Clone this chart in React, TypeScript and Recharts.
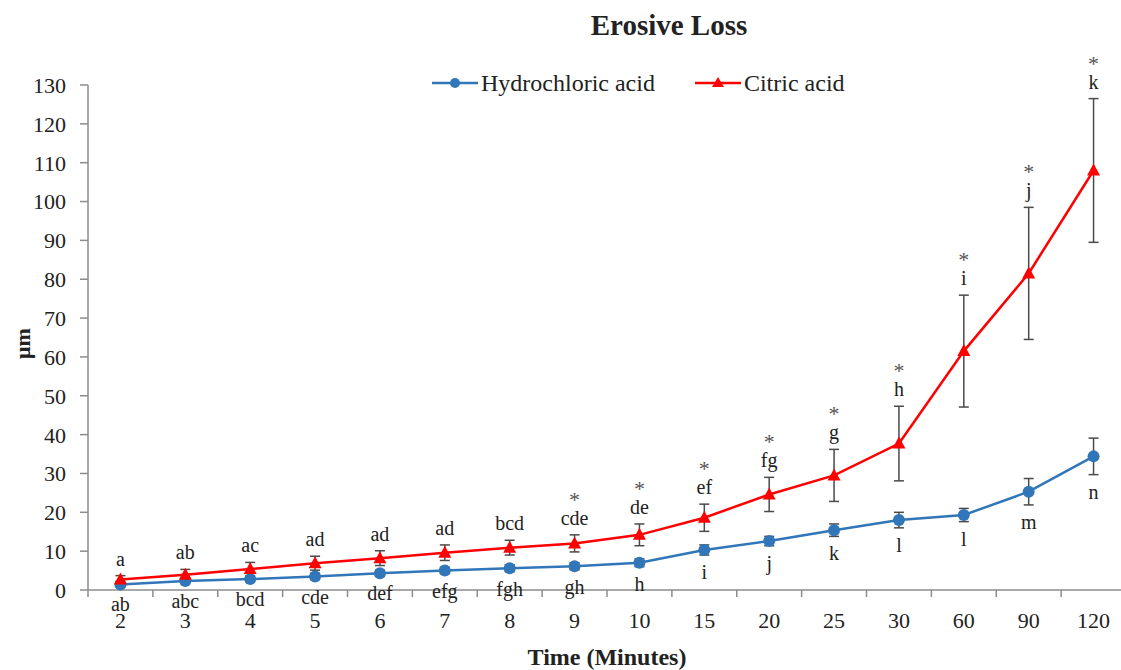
import { ErrorBar, LabelList, Legend, Line, LineChart, XAxis, YAxis } from 'recharts';

const categories = ['2', '3', '4', '5', '6', '7', '8', '9', '10', '15', '20', '25', '30', '60', '90', '120'];
const hclMean = [1.4, 2.3, 2.8, 3.5, 4.3, 5.0, 5.6, 6.1, 7.0, 10.3, 12.6, 15.4, 18.0, 19.3, 25.3, 34.4];
const hclErr = [0.6, 0.7, 0.7, 0.8, 0.8, 0.8, 0.9, 0.9, 1.0, 1.3, 1.2, 1.6, 2.0, 1.7, 3.4, 4.7];
const citMean = [2.7, 3.9, 5.4, 6.9, 8.2, 9.6, 10.9, 12.0, 14.2, 18.6, 24.6, 29.5, 37.7, 61.5, 81.5, 108.0];
const citErr = [1.0, 1.4, 1.7, 1.8, 1.9, 2.0, 1.9, 2.2, 2.8, 3.5, 4.4, 6.7, 9.6, 14.4, 17.0, 18.5];
const hclLetters = ['ab', 'abc', 'bcd', 'cde', 'def', 'efg', 'fgh', 'gh', 'h', 'i', 'j', 'k', 'l', 'l', 'm', 'n'];
const citLetters = ['a', 'ab', 'ac', 'ad', 'ad', 'ad', 'bcd', 'cde', 'de', 'ef', 'fg', 'g', 'h', 'i', 'j', 'k'];
const citStar = [false, false, false, false, false, false, false, true, true, true, true, true, true, true, true, true];
const yTicks = [0, 10, 20, 30, 40, 50, 60, 70, 80, 90, 100, 110, 120, 130];

const FONT = '"Liberation Serif", "Times New Roman", serif';
const BLUE = '#3176b8';
const RED = '#ff0000';
const AXIS = '#8c8c8c';
const TEXT = '#222';

const data = categories.map((t, i) => ({
  t,
  hcl: hclMean[i],
  hclErr: hclErr[i],
  cit: citMean[i],
  citErr: citErr[i],
  hclLow: hclMean[i] - hclErr[i],
  citHigh: citMean[i] + citErr[i],
  idx: i,
}));

function Triangle(props: any) {
  const { cx, cy, index } = props;
  if (cx == null || cy == null) return null;
  return <polygon key={index} points={`${cx},${cy - 7} ${cx - 6.5},${cy + 5} ${cx + 6.5},${cy + 5}`} fill={RED} />;
}

function XTick(props: any) {
  const { x, y, payload, index } = props;
  const half = typeof payload.offset === 'number' && payload.offset > 0 ? payload.offset : 32.4;
  return (
    <g>
      <line x1={x - half} y1={y} x2={x - half} y2={y + 7} stroke={AXIS} strokeWidth={1.5} />
      {index === categories.length - 1 && (
        <line x1={x + half} y1={y} x2={x + half} y2={y + 7} stroke={AXIS} strokeWidth={1.5} />
      )}
      <text x={x} y={y + 38} textAnchor="middle" fontSize={22} fontFamily={FONT} fill={TEXT}>
        {payload.value}
      </text>
    </g>
  );
}

function YTick(props: any) {
  const { x, y, payload } = props;
  return (
    <text x={x} y={y} dy="0.36em" textAnchor="end" fontSize={22} fontFamily={FONT} fill={TEXT}>
      {payload.value}
    </text>
  );
}

function TopLabel(props: any) {
  const { x, y, index } = props;
  return (
    <g>
      {citStar[index] && (
        <text x={x} y={y - 28} textAnchor="middle" fontSize={22} fontFamily={FONT} fill="#555">
          *
        </text>
      )}
      <text x={x} y={y - 10} textAnchor="middle" fontSize={20} fontFamily={FONT} fill={TEXT}>
        {citLetters[index]}
      </text>
    </g>
  );
}

function BottomLabel(props: any) {
  const { x, y, index } = props;
  return (
    <text x={x} y={y + 24} textAnchor="middle" fontSize={20} fontFamily={FONT} fill={TEXT}>
      {hclLetters[index]}
    </text>
  );
}

function LegendBox() {
  return (
    <div style={{ display: 'flex', alignItems: 'center', fontFamily: FONT, fontSize: 24, color: TEXT, lineHeight: '28px', whiteSpace: 'nowrap' }}>
      <svg width={46} height={16}>
        <line x1={0} y1={8} x2={46} y2={8} stroke={BLUE} strokeWidth={2.5} />
        <circle cx={23} cy={8} r={5} fill={BLUE} />
      </svg>
      <span style={{ marginLeft: 3 }}>Hydrochloric acid</span>
      <svg width={46} height={16} style={{ marginLeft: 40 }}>
        <line x1={0} y1={8} x2={46} y2={8} stroke={RED} strokeWidth={2.5} />
        <polygon points="23,2 17,12 29,12" fill={RED} />
      </svg>
      <span style={{ marginLeft: 3 }}>Citric acid</span>
    </div>
  );
}

export default function App() {
  return (
    <div style={{ position: 'absolute', left: 0, top: 0, width: 1121, height: 670, overflow: 'hidden', background: '#fff' }}>
      <div
        style={{
          position: 'absolute',
          left: 669,
          top: 7,
          transform: 'translateX(-50%)',
          fontFamily: FONT,
          fontWeight: 'bold',
          fontSize: 29,
          color: TEXT,
          whiteSpace: 'nowrap',
          lineHeight: '36px',
        }}
      >
        Erosive Loss
      </div>
      <LineChart width={1130} height={670} data={data} margin={{ top: 85, right: 4, bottom: 0, left: 0 }}>
        <XAxis
          dataKey="t"
          scale="band"
          height={80}
          axisLine={{ stroke: AXIS, strokeWidth: 1.5 }}
          tickLine={false}
          tickSize={0}
          tickMargin={0}
          interval={0}
          tick={<XTick />}
          label={{ value: 'Time (Minutes)', position: 'insideBottom', offset: 5, fontFamily: FONT, fontSize: 24, fontWeight: 'bold', fill: TEXT }}
        />
        <YAxis
          width={88}
          domain={[0, 130]}
          ticks={yTicks}
          interval={0}
          axisLine={{ stroke: AXIS, strokeWidth: 1.5 }}
          tickLine={{ stroke: AXIS, strokeWidth: 1.5 }}
          tickSize={8}
          tickMargin={14}
          tick={<YTick />}
          label={(p: any) => {
            const vb = p.viewBox;
            const cx = vb.x + 22;
            const cy = vb.y + vb.height / 2 + 6;
            return (
              <text
                x={cx}
                y={cy}
                transform={`rotate(-90 ${cx} ${cy})`}
                textAnchor="middle"
                dominantBaseline="central"
                fontFamily={FONT}
                fontSize={22}
                fontWeight="bold"
                fill={TEXT}
              >
                μm
              </text>
            );
          }}
        />
        <Legend
          verticalAlign="middle"
          align="center"
          layout="horizontal"
          content={<LegendBox />}
          wrapperStyle={{ left: 432, top: 69, width: 'auto', height: 'auto' }}
        />
        <Line
          dataKey="hcl"
          stroke={BLUE}
          strokeWidth={2.5}
          dot={{ r: 6, fill: BLUE, stroke: BLUE, strokeWidth: 0 }}
          activeDot={false}
          isAnimationActive={false}
        >
          <ErrorBar dataKey="hclErr" width={5} stroke="#4a4a4a" strokeWidth={1.5} direction="y" isAnimationActive={false} />
        </Line>
        <Line
          dataKey="cit"
          stroke={RED}
          strokeWidth={2.5}
          dot={<Triangle />}
          activeDot={false}
          isAnimationActive={false}
        >
          <ErrorBar dataKey="citErr" width={5} stroke="#4a4a4a" strokeWidth={1.5} direction="y" isAnimationActive={false} />
        </Line>
        <Line dataKey="citHigh" stroke="none" dot={false} activeDot={false} legendType="none" isAnimationActive={false}>
          <LabelList dataKey="idx" content={<TopLabel />} />
        </Line>
        <Line dataKey="hclLow" stroke="none" dot={false} activeDot={false} legendType="none" isAnimationActive={false}>
          <LabelList dataKey="idx" content={<BottomLabel />} />
        </Line>
      </LineChart>
    </div>
  );
}
